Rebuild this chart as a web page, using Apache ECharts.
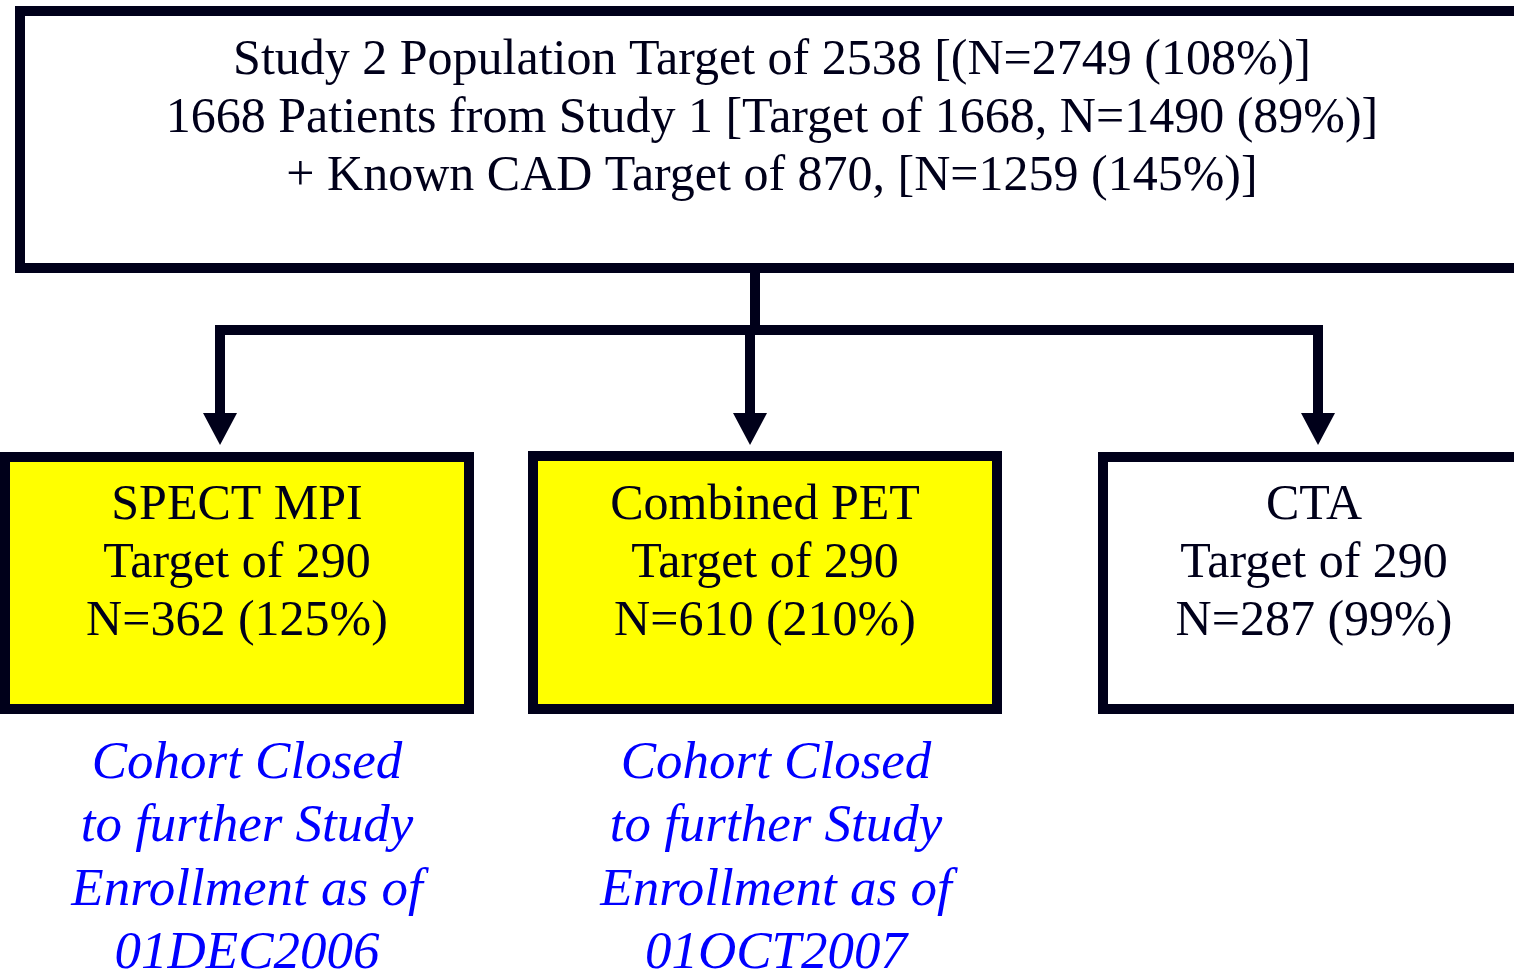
<!DOCTYPE html>
<html>
<head>
<meta charset="utf-8">
<script src="https://cdn.jsdelivr.net/npm/echarts@6/dist/echarts.min.js"></script>
<style>
  html, body { margin: 0; padding: 0; background: #ffffff; }
  #flow { width: 1514px; height: 974px; }
</style>
</head>
<body>
<div id="flow"></div>
<script>
// Study 2 overall
const studyTarget = 2538, studyN = 2749, studyPct = 108;
// Study 1 carry-over and known CAD
const study1Target = 1668, study1N = 1490, study1Pct = 89;
const cadTarget = 870, cadN = 1259, cadPct = 145;

// Imaging arms
const armNames = ['SPECT MPI', 'Combined PET', 'CTA'];
const armTargets = [290, 290, 290];
const armN = [362, 610, 287];
const armPct = [125, 210, 99];
const armClosed = ['01DEC2006', '01OCT2007', null];

document.addEventListener('DOMContentLoaded', function () {
    const chart = echarts.init(document.getElementById('flow'));

    const ink = '#00001a';
    const serif = '"Liberation Serif", "Times New Roman", serif';

    const topLines = [
        'Study 2 Population Target of ' + studyTarget + ' [(N=' + studyN + ' (' + studyPct + '%)]',
        study1Target + ' Patients from Study 1 [Target of ' + study1Target + ', N=' + study1N + ' (' + study1Pct + '%)]',
        '+ Known CAD Target of ' + cadTarget + ', [N=' + cadN + ' (' + cadPct + '%)]'
    ];

    // layout (pixels)
    const armBoxes = [
        { x: 5, y: 457, w: 464, h: 252, cx: 237, arrowX: 220, noteX: 247 },
        { x: 533, y: 456, w: 464, h: 253, cx: 765, arrowX: 750, noteX: 776 },
        { x: 1103, y: 457, w: 440, h: 252, cx: 1314, arrowX: 1318, noteX: 1314 }
    ];

    function textEl(str, x, y, size, color, italic) {
        return {
            type: 'text',
            x: x,
            y: y,
            silent: true,
            style: {
                text: str,
                fontFamily: serif,
                fontSize: size,
                fontStyle: italic ? 'italic' : 'normal',
                fill: color,
                textAlign: 'center',
                textVerticalAlign: 'middle'
            }
        };
    }

    const elements = [];

    // top box
    elements.push({
        type: 'rect',
        shape: { x: 20, y: 11, width: 1540, height: 257 },
        style: { fill: '#ffffff', stroke: ink, lineWidth: 10 }
    });
    topLines.forEach(function (line, i) {
        elements.push(textEl(line, 772, 61 + i * 58, 50, ink, false));
    });

    // connectors
    elements.push({
        type: 'polyline',
        shape: { points: [[755, 268], [755, 330]] },
        style: { stroke: ink, lineWidth: 10, fill: null }
    });
    elements.push({
        type: 'polyline',
        shape: { points: [[220, 414], [220, 330], [1318, 330], [1318, 414]] },
        style: { stroke: ink, lineWidth: 10, fill: null, lineJoin: 'miter' }
    });

    armNames.forEach(function (name, i) {
        const b = armBoxes[i];
        // middle shaft (outer ones are part of the connector)
        if (i === 1) {
            elements.push({
                type: 'polyline',
                shape: { points: [[b.arrowX, 330], [b.arrowX, 414]] },
                style: { stroke: ink, lineWidth: 10, fill: null }
            });
        }
        elements.push({
            type: 'polygon',
            shape: { points: [[b.arrowX - 17, 413], [b.arrowX + 17, 413], [b.arrowX, 445]] },
            style: { fill: ink }
        });
        // box
        elements.push({
            type: 'rect',
            shape: { x: b.x, y: b.y, width: b.w, height: b.h },
            style: { fill: armClosed[i] ? '#ffff00' : '#ffffff', stroke: ink, lineWidth: 10 }
        });
        const lines = [name, 'Target of ' + armTargets[i], 'N=' + armN[i] + ' (' + armPct[i] + '%)'];
        lines.forEach(function (line, j) {
            elements.push(textEl(line, b.cx, 506 + j * 58, 50, ink, false));
        });
        // closure note
        if (armClosed[i]) {
            const note = ['Cohort Closed', 'to further Study', 'Enrollment as of', armClosed[i]];
            note.forEach(function (line, j) {
                elements.push(textEl(line, b.noteX, 764 + j * 63.5, 53, '#0000ff', true));
            });
        }
    });

    chart.setOption({
        backgroundColor: '#ffffff',
        animation: false,
        graphic: { elements: elements }
    });

    window.addEventListener('resize', function () {
        chart.resize();
    });
});
</script>
</body>
</html>
